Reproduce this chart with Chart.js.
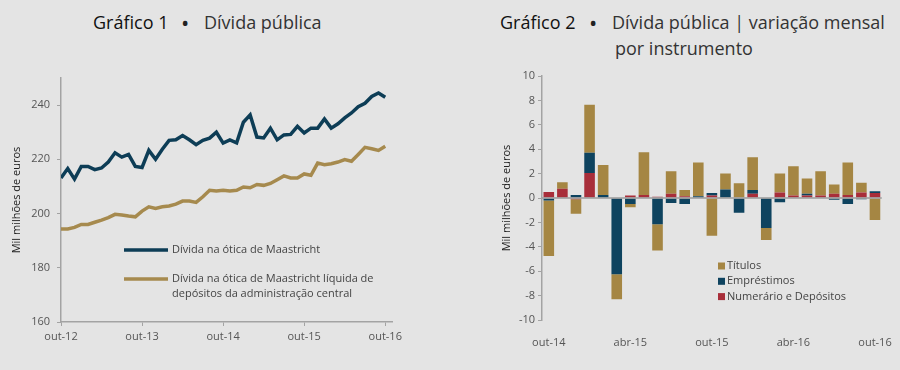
<!DOCTYPE html>
<html><head><meta charset="utf-8">
<script src="https://cdn.jsdelivr.net/npm/chart.js@4"></script>
<style>
html,body{margin:0;padding:0;background:#e4e4e4;width:900px;height:370px;overflow:hidden;font-family:'Open Sans',sans-serif;}
canvas{position:absolute;top:0;}
#c1{left:0;}
#c2{left:450px;}
.t{position:absolute;font-size:18px;line-height:24px;white-space:nowrap;color:#333;font-weight:400;}
.g{color:#111;font-weight:400;}
.d{color:#222;font-size:22px;}
</style></head><body>
<div class="t g" style="left:93px;top:10px">Gráfico 1</div>
<div class="t d" style="left:181px;top:10px">•</div>
<div class="t" style="left:204px;top:10px">Dívida pública</div>
<div class="t g" style="left:500px;top:10px">Gráfico 2</div>
<div class="t d" style="left:589px;top:10px">•</div>
<div class="t" style="left:612px;top:10px">Dívida pública | variação mensal</div>
<div class="t" style="left:615px;top:36px">por instrumento</div>
<canvas id="c1" width="450" height="370"></canvas>
<canvas id="c2" width="450" height="370"></canvas>
<script>
// ---- Gráfico 1 data ----
const months1 = ['out-12','nov-12','dez-12','jan-13','fev-13','mar-13','abr-13','mai-13','jun-13','jul-13','ago-13','set-13',
 'out-13','nov-13','dez-13','jan-14','fev-14','mar-14','abr-14','mai-14','jun-14','jul-14','ago-14','set-14',
 'out-14','nov-14','dez-14','jan-15','fev-15','mar-15','abr-15','mai-15','jun-15','jul-15','ago-15','set-15',
 'out-15','nov-15','dez-15','jan-16','fev-16','mar-16','abr-16','mai-16','jun-16','jul-16','ago-16','set-16','out-16'];
const maastricht = [213.1,216.6,212.7,217.4,217.4,216.2,216.8,219.0,222.4,220.8,221.8,217.4,
 217.0,223.3,220.0,223.7,227.0,227.2,228.8,227.2,225.4,227.0,227.8,230.0,
 226.0,227.2,226.1,233.7,236.4,228.2,227.9,231.5,227.2,229.0,229.2,232.2,
 229.7,231.5,231.5,234.9,231.5,233.1,235.3,237.1,239.4,240.7,243.2,244.5,242.9];
const liquida = [194.3,194.3,194.9,196.0,196.0,196.8,197.6,198.5,199.7,199.5,199.1,198.8,
 200.9,202.5,201.9,202.5,202.8,203.5,204.6,204.6,204.1,206.2,208.6,208.3,
 208.6,208.3,208.6,209.8,209.5,210.7,210.4,211.1,212.5,213.9,213.1,213.1,
 214.6,214.1,218.6,218.0,218.4,219.0,219.9,219.3,221.8,224.4,223.9,223.3,224.8];
const seriesNames1 = ['Dívida na ótica de Maastricht', 'Dívida na ótica de Maastricht líquida de depósitos da administração central'];
const legendLines1 = [['Dívida na ótica de Maastricht'], ['Dívida na ótica de Maastricht líquida de', 'depósitos da administração central']];
const yTicks1 = [160,180,200,220,240];
const xTickIdx1 = [0,12,24,36,48];

// ---- Gráfico 2 data ----
const months2 = ['out-14','nov-14','dez-14','jan-15','fev-15','mar-15','abr-15','mai-15','jun-15','jul-15','ago-15','set-15',
 'out-15','nov-15','dez-15','jan-16','fev-16','mar-16','abr-16','mai-16','jun-16','jul-16','ago-16','set-16','out-16'];
const numerario = [0.5,0.75,-0.1,2.05,0.05,0,0.2,0.25,0.1,0.35,0.15,0,0.2,0.05,0.05,0.35,0,0.45,0.2,0.2,0.2,0.35,0.25,0.45,0.4];
const emprestimos = [-0.2,0,0.25,1.65,0.2,-6.25,-0.5,0,-2.15,-0.4,-0.5,0.15,0.2,0.65,-1.2,0.3,-2.45,-0.35,0,0.15,0,-0.15,-0.5,-0.1,0.15];
const titulos = [-4.55,0.55,-1.2,3.95,2.45,-2.05,-0.25,3.5,-2.15,1.85,0.5,2.75,-3.1,1.3,1.15,2.7,-1.0,1.55,2.4,1.25,2.0,0.75,2.65,0.8,-1.8];
const seriesNames2 = ['Numerário e Depósitos','Empréstimos','Títulos'];
const legendOrder2 = [2,1,0];

const AX = '#a3a3a3', TXT = '#555';
const FONT = "'Open Sans', sans-serif";
Chart.defaults.font.family = FONT;
Chart.defaults.color = TXT;

const lineLegend = {
  id:'lineLegend',
  afterDraw(chart){
    const ctx = chart.ctx; ctx.save();
    const rows = [250, 279];
    ctx.font = "11px " + FONT; ctx.fillStyle = '#444'; ctx.textBaseline = 'middle';
    chart.data.datasets.forEach((ds,i)=>{
      const y = rows[i];
      ctx.strokeStyle = ds.borderColor; ctx.lineWidth = 3.5;
      ctx.beginPath(); ctx.moveTo(124,y); ctx.lineTo(168,y); ctx.stroke();
      legendLines1[i].forEach((t,j)=>ctx.fillText(t,172,y+j*15));
    });
    ctx.restore();
  }
};

new Chart(document.getElementById('c1'), {
  type:'line',
  data:{datasets:[
    {label:seriesNames1[0], data:maastricht.map((v,i)=>({x:i,y:v})), borderColor:'#0d3d56', borderWidth:3.5, pointRadius:0, tension:0, fill:false},
    {label:seriesNames1[1], data:liquida.map((v,i)=>({x:i,y:v})), borderColor:'#a68a4e', borderWidth:3.5, pointRadius:0, tension:0, fill:false}
  ]},
  options:{
    responsive:false, animation:false, devicePixelRatio:1,
    layout:{padding:{left:0,right:58,top:78,bottom:0}},
    plugins:{legend:{display:false},tooltip:{enabled:false}},
    scales:{
      x:{type:'linear',min:0,max:49,
        afterBuildTicks:s=>{s.ticks = xTickIdx1.map(v=>({value:v}));},
        afterFit:s=>{s.height=48;},
        ticks:{callback:v=>months1[v]||'',font:{size:11},color:TXT,padding:4,maxRotation:0},
        grid:{drawOnChartArea:false,drawTicks:true,tickLength:4,color:AX,lineWidth:1},
        border:{color:AX,width:1.5}},
      y:{min:160,max:250,
        afterBuildTicks:s=>{s.ticks = yTicks1.map(v=>({value:v}));},
        afterFit:s=>{s.width=61;},
        ticks:{font:{size:11},color:TXT,padding:7},
        grid:{drawOnChartArea:false,drawTicks:true,tickLength:4,color:AX,lineWidth:1},
        border:{color:AX,width:1.5},
        title:{display:true,text:'Mil milhões de euros',font:{size:11},color:'#222',padding:{top:10,bottom:0}}}
    }
  },
  plugins:[lineLegend]
});

const zeroLine = {
  id:'zeroLine',
  afterDatasetsDraw(chart){
    const ctx=chart.ctx, a=chart.chartArea, y=chart.scales.y.getPixelForValue(0);
    ctx.save(); ctx.strokeStyle='#9b9b9b'; ctx.lineWidth=1.5;
    ctx.beginPath(); ctx.moveTo(a.left,y); ctx.lineTo(a.right,y); ctx.stroke(); ctx.restore();
  }
};
const boxLegend = {
  id:'boxLegend',
  afterDraw(chart){
    const ctx=chart.ctx; ctx.save();
    ctx.font="11px "+FONT; ctx.fillStyle='#444'; ctx.textBaseline='middle';
    legendOrder2.forEach((di,k)=>{
      const ds=chart.data.datasets[di]; const y=266+k*15.3;
      ctx.fillStyle=ds.backgroundColor; ctx.fillRect(268,y-3.5,7,7);
      ctx.fillStyle='#444'; ctx.fillText(ds.label,277,y);
    });
    ctx.restore();
  }
};

new Chart(document.getElementById('c2'), {
  type:'bar',
  data:{labels:months2, datasets:[
    {label:seriesNames2[0], data:numerario, backgroundColor:'#a82e3a'},
    {label:seriesNames2[1], data:emprestimos, backgroundColor:'#0e435f'},
    {label:seriesNames2[2], data:titulos, backgroundColor:'#a58643'}
  ]},
  options:{
    responsive:false, animation:false, devicePixelRatio:1,
    layout:{padding:{left:40,right:16.6,top:76,bottom:0}},
    plugins:{legend:{display:false},tooltip:{enabled:false}},
    datasets:{bar:{barPercentage:0.78,categoryPercentage:1}},
    scales:{
      x:{stacked:true,
        afterFit:s=>{s.height=50;},
        ticks:{autoSkip:false,maxRotation:0,font:{size:11},color:TXT,padding:8,
          callback:(v,i)=> i%6===0 ? months2[i] : ''},
        grid:{display:false}, border:{display:false}},
      y:{stacked:true,min:-10,max:10,
        afterFit:s=>{s.width=52;},
        ticks:{stepSize:2,font:{size:11},color:TXT,padding:3},
        grid:{drawOnChartArea:false,drawTicks:true,tickLength:4,color:AX},
        border:{color:AX,width:1.5},
        title:{display:true,text:'Mil milhões de euros',font:{size:11},color:'#222',padding:{top:10,bottom:0}}}
    }
  },
  plugins:[zeroLine,boxLegend]
});
</script>
</body></html>
